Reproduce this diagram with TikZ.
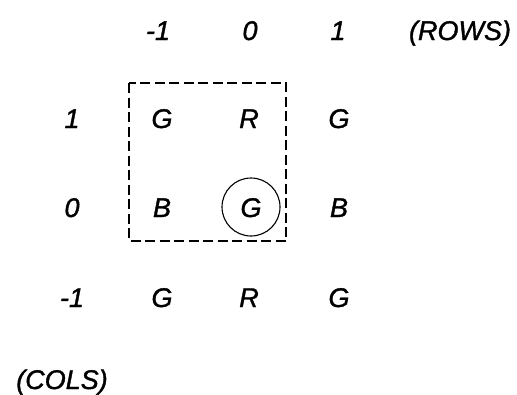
\documentclass[tikz,border=0pt]{standalone}
\usepackage{fontspec}
\setmainfont{Liberation Sans}
\newfontfamily\plotfont{Liberation Sans Italic}[FakeBold=1.3]
\begin{document}
\begin{tikzpicture}[x=1pt,y=-1pt,
  lbl/.style={font=\fontsize{27}{30}\plotfont, inner sep=0pt, anchor=base},
  ring/.style={draw, circle, line width=1.1pt, minimum size=58pt, inner sep=0pt},
  window/.style={draw, dashed, dash pattern=on 10pt off 4.5pt, line width=1.4pt}]
\useasboundingbox (0,0) rectangle (517,394);
% column headers
\node[lbl] (hm) at (158,40) {-1};
\node[lbl] (h0) at (250,40) {0};
\node[lbl] (hp) at (338,40) {1};
\node[lbl] (rows) at (460,40) {(ROWS)};
% row headers
\node[lbl] (rp) at (72,128) {1};
\node[lbl] (r0) at (72,217) {0};
\node[lbl] (rm) at (72,307) {-1};
\node[lbl] (cols) at (62,389) {(COLS)};
% grid
\node[lbl] (a1) at (162,128) {G};
\node[lbl] (a2) at (249,128) {R};
\node[lbl] (a3) at (339,128) {G};
\node[lbl] (b1) at (162,217) {B};
\node[lbl] (b2) at (251,217) {G};
\node[lbl] (b3) at (339,217) {B};
\node[lbl] (c1) at (162,307) {G};
\node[lbl] (c2) at (249,307) {R};
\node[lbl] (c3) at (339,307) {G};
% circle around centre pixel
\node[ring] (circ) at (251,207) {};
% dashed window
\coordinate (wtl) at (129,83);
\coordinate (wbr) at (286,241);
\draw[window] (wtl) rectangle (wbr);
\end{tikzpicture}
\end{document}
